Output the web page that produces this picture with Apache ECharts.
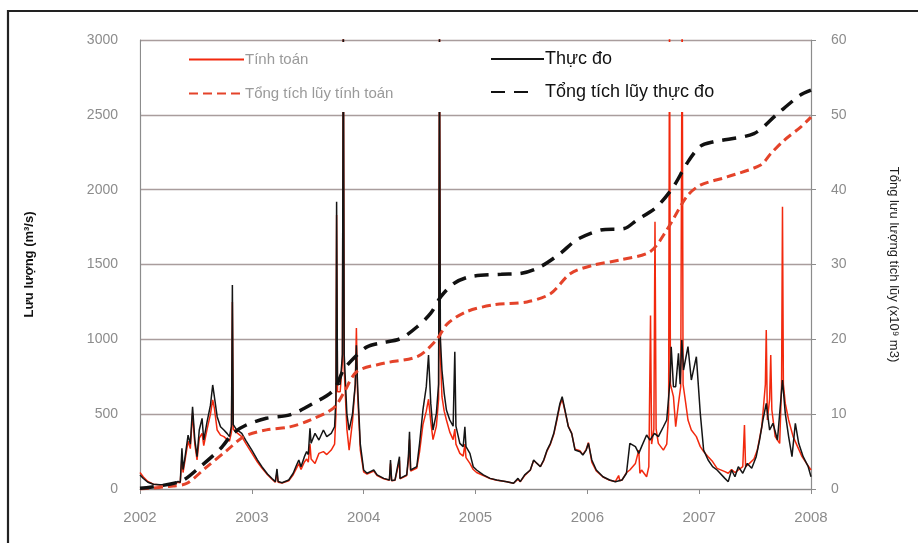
<!DOCTYPE html>
<html>
<head>
<meta charset="utf-8">
<script src="https://cdn.jsdelivr.net/npm/echarts@6/dist/echarts.min.js"></script>
<style>
  html, body { margin: 0; padding: 0; background: #fff; }
  #chart { width: 918px; height: 543px; }
</style>
</head>
<body>
<div id="chart"></div>
<script>
// time in decimal years, flow in m3/s
var tObs = [2002.00,2002.03,2002.07,2002.12,2002.18,2002.24,2002.30,2002.34,2002.36,2002.375,2002.385,2002.40,2002.43,2002.45,2002.47,2002.49,2002.51,2002.53,2002.555,2002.57,2002.60,2002.63,2002.65,2002.665,2002.69,2002.72,2002.75,2002.78,2002.80,2002.818,2002.826,2002.834,2002.86,2002.91,2002.95,
  2003.00,2003.05,2003.09,2003.14,2003.18,2003.21,2003.225,2003.235,2003.27,2003.33,2003.37,2003.40,2003.42,2003.44,2003.47,2003.49,2003.505,2003.52,2003.53,2003.565,2003.60,2003.64,2003.67,2003.71,2003.74,2003.752,2003.758,2003.766,2003.79,2003.81,2003.818,2003.826,2003.85,2003.87,2003.90,2003.925,2003.935,2003.945,2003.97,
  2004.00,2004.03,2004.06,2004.09,2004.12,2004.18,2004.23,2004.24,2004.25,2004.28,2004.32,2004.325,2004.385,2004.40,2004.41,2004.42,2004.475,2004.50,2004.53,2004.56,2004.58,2004.60,2004.62,2004.65,2004.67,2004.678,2004.686,2004.70,2004.72,2004.74,2004.77,2004.80,2004.815,2004.825,2004.86,2004.89,2004.905,2004.915,2004.95,2004.98,
  2005.01,2005.07,2005.13,2005.19,2005.28,2005.34,2005.38,2005.40,2005.44,2005.49,2005.52,2005.55,2005.58,2005.61,2005.64,2005.67,2005.70,2005.725,2005.755,2005.775,2005.80,2005.83,2005.86,2005.89,2005.935,2005.96,2005.99,
  2006.01,2006.04,2006.08,2006.14,2006.20,2006.25,2006.31,2006.35,2006.38,2006.43,2006.46,2006.485,2006.53,2006.56,2006.60,2006.635,2006.68,2006.71,2006.74,2006.75,2006.77,2006.79,2006.815,2006.83,2006.845,2006.86,2006.90,2006.93,2006.975,
  2007.01,2007.04,2007.08,2007.12,2007.16,2007.23,2007.26,2007.29,2007.32,2007.35,2007.39,2007.43,2007.47,2007.51,2007.54,2007.57,2007.60,2007.63,2007.66,2007.70,2007.745,2007.77,2007.80,2007.83,2007.86,2007.89,2007.93,2007.975,2008.00];
var qObs = [94,70,45,32,28,30,38,50,45,272,130,200,360,300,550,330,216,394,472,327,450,560,695,617,483,416,394,370,350,420,1363,430,400,372,320,
  260,195,149,100,70,49,134,50,42,60,105,160,194,149,216,250,230,405,305,372,327,394,350,372,416,600,1919,700,700,900,3300,900,500,394,500,700,960,700,300,
  127,105,116,127,94,71,60,194,56,60,216,71,94,216,383,127,149,305,528,684,895,572,394,505,700,3100,1000,795,639,528,461,420,917,420,305,283,416,283,238,149,
  127,94,71,60,49,38,71,49,94,127,194,171,149,194,260,305,372,461,572,617,528,416,372,260,249,227,260,
  305,194,127,82,60,49,60,105,305,283,238,283,361,327,372,350,416,461,728,951,684,684,906,700,995,795,951,728,884,
  505,260,194,149,127,71,49,127,82,149,105,171,138,216,327,461,572,394,439,327,728,505,350,216,439,305,216,149,82];

var tCalc = [2002.00,2002.03,2002.07,2002.12,2002.18,2002.24,2002.30,2002.34,2002.36,2002.375,2002.385,2002.40,2002.43,2002.45,2002.47,2002.49,2002.51,2002.53,2002.555,2002.57,2002.60,2002.63,2002.65,2002.665,2002.69,2002.72,2002.75,2002.78,2002.80,2002.818,2002.826,2002.834,2002.86,2002.91,2002.95,
  2003.00,2003.05,2003.09,2003.14,2003.18,2003.21,2003.225,2003.235,2003.27,2003.33,2003.37,2003.40,2003.42,2003.44,2003.47,2003.49,2003.505,2003.52,2003.53,2003.565,2003.60,2003.64,2003.67,2003.71,2003.74,2003.752,2003.758,2003.766,2003.79,2003.81,2003.818,2003.826,2003.85,2003.87,2003.90,2003.925,2003.935,2003.945,2003.97,
  2004.00,2004.03,2004.06,2004.09,2004.12,2004.18,2004.23,2004.24,2004.25,2004.28,2004.32,2004.325,2004.385,2004.40,2004.41,2004.42,2004.475,2004.50,2004.53,2004.56,2004.58,2004.60,2004.62,2004.65,2004.67,2004.678,2004.686,2004.70,2004.72,2004.74,2004.77,2004.80,2004.815,2004.825,2004.86,2004.89,2004.905,2004.915,2004.95,2004.98,
  2005.01,2005.07,2005.13,2005.19,2005.28,2005.34,2005.38,2005.40,2005.44,2005.49,2005.52,2005.55,2005.58,2005.61,2005.64,2005.67,2005.70,2005.725,2005.755,2005.775,2005.80,2005.83,2005.86,2005.89,2005.935,2005.96,2005.99,
  2006.01,2006.04,2006.08,2006.14,2006.20,2006.25,2006.28,2006.29,2006.31,2006.35,2006.38,2006.43,2006.46,2006.47,2006.485,2006.53,2006.55,2006.565,2006.575,2006.595,2006.605,2006.615,2006.635,2006.68,2006.71,2006.727,2006.735,2006.743,2006.77,2006.79,2006.815,2006.835,2006.848,2006.856,2006.88,2006.90,2006.93,2006.975,
  2007.01,2007.04,2007.08,2007.12,2007.16,2007.23,2007.26,2007.29,2007.32,2007.35,2007.39,2007.405,2007.415,2007.45,2007.49,2007.52,2007.56,2007.592,2007.60,2007.61,2007.63,2007.64,2007.65,2007.68,2007.72,2007.737,2007.745,2007.753,2007.77,2007.80,2007.84,2007.88,2007.92,2007.96,2008.00];
var qCalc = [110,80,50,32,26,28,35,45,42,216,110,180,320,270,505,300,194,340,372,290,400,500,595,540,394,360,350,330,320,380,1250,400,380,350,300,
  240,180,140,95,65,45,110,45,40,55,95,140,170,130,180,200,180,300,200,171,238,250,230,260,300,500,1830,650,650,850,3300,800,400,260,450,700,1075,650,260,
  115,100,110,120,90,68,58,170,55,58,190,68,90,190,330,120,140,250,430,520,600,450,330,420,600,3100,900,617,520,461,380,330,400,300,238,220,300,210,171,130,
  110,90,70,58,48,38,65,48,90,125,190,170,150,190,255,300,365,450,560,600,520,420,372,265,255,230,265,
  310,180,120,80,58,50,90,55,60,110,127,171,260,105,127,82,150,1160,300,400,1786,400,305,260,300,500,3300,700,617,416,572,684,3300,700,572,461,394,350,
  283,250,216,183,138,116,105,130,110,127,150,427,150,171,200,260,416,700,1062,461,600,895,528,350,305,700,1886,700,572,461,350,283,216,171,127];

// cumulative volume, x10^9 m3
var tCumObs = [2002.00,2002.36,2002.54,2002.72,2002.83,2002.95,2003.13,2003.34,2003.55,2003.73,2003.82,2003.94,2004.03,2004.15,2004.33,2004.48,2004.60,2004.69,2004.81,2004.96,2005.23,2005.40,2005.58,2005.76,2005.905,2006.12,2006.33,2006.44,2006.62,2006.77,2006.89,2007.01,2007.13,2007.49,2007.69,2007.90,2008.00];
var cumObs = [0.1,1.0,3.0,5.4,7.4,8.55,9.45,9.9,11.45,13.2,15.9,17.9,19.0,19.5,20.1,21.7,23.5,25.7,27.5,28.4,28.7,28.8,29.7,31.5,33.3,34.6,34.8,35.9,37.7,40.4,43.5,45.8,46.4,47.5,50.0,52.6,53.3];
var tCumCalc = [2002.00,2002.30,2002.42,2002.60,2002.78,2002.93,2003.13,2003.34,2003.52,2003.73,2003.82,2003.94,2004.18,2004.48,2004.65,2004.75,2004.92,2005.16,2005.46,2005.67,2005.85,2006.05,2006.29,2006.56,2006.71,2006.89,2007.01,2007.25,2007.55,2007.64,2007.76,2007.91,2008.00];
var cumCalc = [0.0,0.4,0.76,3.0,5.2,7.0,7.9,8.3,9.2,10.8,12.8,15.7,16.8,17.7,19.9,22.1,23.7,24.6,25.0,26.1,28.8,29.9,30.6,31.7,34.6,39.1,40.6,41.7,43.3,44.8,46.6,48.4,49.7];

var yearTicks = [2002, 2003, 2004, 2005, 2006, 2007, 2008];

function pairs(xs, ys) {
    return xs.map(function (x, i) { return [x, ys[i]]; });
}

var myChart = echarts.init(document.getElementById('chart'));

var gray = '#8c8c8c';
var gridCol = '#a99d9d';
var plain = function (v) { return String(v); };

// one legend per entry so each icon can have its own length
function legendItem(name, left, top, width, color, size, pad) {
    return {
        left: left, top: top,
        itemWidth: width, itemHeight: 12,
        zlevel: 1, z: 10,
        itemStyle: { opacity: 0 },
        textStyle: { color: color, fontSize: size, padding: [0, 0, 0, pad] },
        data: [name]
    };
}

myChart.setOption({
    animation: false,
    backgroundColor: '#fff',
    textStyle: { fontFamily: 'Liberation Sans, Arial, sans-serif' },
    grid: { left: 140, right: 107, top: 40, bottom: 54 },
    xAxis: {
        type: 'value',
        min: yearTicks[0],
        max: yearTicks[yearTicks.length - 1],
        interval: 1,
        axisLine: { show: true, lineStyle: { color: gray, width: 1.2 } },
        axisTick: { show: true, length: 5, lineStyle: { color: gray } },
        axisLabel: { color: gray, fontSize: 15, margin: 21, formatter: plain },
        splitLine: { show: false }
    },
    yAxis: [
        {
            type: 'value',
            min: 0, max: 3000, interval: 500,
            name: 'Lưu lượng (m³/s)',
            nameLocation: 'middle',
            nameGap: 104,
            nameTextStyle: { color: '#111', fontSize: 13, fontWeight: 'bold' },
            axisLine: { show: true, lineStyle: { color: gray, width: 1.2 } },
            axisTick: { show: false },
            axisLabel: { color: gray, fontSize: 14, margin: 22, formatter: plain },
            splitLine: { show: true, lineStyle: { color: gridCol, width: 1.3 } }
        },
        {
            type: 'value',
            min: 0, max: 60, interval: 10,
            position: 'right',
            name: 'Tổng lưu lượng tích lũy (x10⁹ m3)',
            nameLocation: 'middle',
            nameRotate: -90,
            nameGap: 76,
            nameTextStyle: { color: '#222', fontSize: 13 },
            axisLine: { show: true, lineStyle: { color: gray, width: 1.2 } },
            axisTick: { show: true, length: 5, lineStyle: { color: gray } },
            axisLabel: { color: gray, fontSize: 14, margin: 20, formatter: plain },
            splitLine: { show: false }
        }
    ],
    legend: [
        legendItem('Tính toán', 183, 47, 55, '#9a9a9a', 15, -4),
        legendItem('Tổng tích lũy tính toán', 183, 81, 55, '#9a9a9a', 15, -4),
        legendItem('Thực đo', 485, 45, 53, '#111', 18, -4),
        legendItem('Tổng tích lũy thực đo', 485, 78, 37, '#111', 18, 12)
    ],
    graphic: [
        {
            type: 'rect', zlevel: 1, z: 1, silent: true,
            shape: { x: 141, y: 42, width: 669, height: 70 },
            style: { fill: '#fff' }
        },
        {
            type: 'rect', zlevel: 1, z: 20, silent: true,
            shape: { x: 8, y: 11, width: 930, height: 560 },
            style: { fill: 'none', stroke: '#222', lineWidth: 2.2 }
        }
    ],
    series: [
        {
            name: 'Tính toán',
            type: 'line',
            symbol: 'none',
            data: pairs(tCalc, qCalc),
            lineStyle: { color: '#f2290e', width: 1.5 },
            itemStyle: { color: '#f2290e' }
        },
        {
            name: 'Thực đo',
            type: 'line',
            symbol: 'none',
            data: pairs(tObs, qObs),
            lineStyle: { color: '#151515', width: 1.5 },
            itemStyle: { color: '#151515' }
        },
        {
            name: 'Tổng tích lũy tính toán',
            type: 'line',
            yAxisIndex: 1,
            zlevel: 1, z: 5,
            symbol: 'none',
            smooth: 0.3,
            data: pairs(tCumCalc, cumCalc),
            lineStyle: { color: '#e4432a', width: 3, type: [9, 5] },
            itemStyle: { color: '#e4432a' }
        },
        {
            name: 'Tổng tích lũy thực đo',
            type: 'line',
            yAxisIndex: 1,
            zlevel: 1, z: 5,
            symbol: 'none',
            smooth: 0.3,
            data: pairs(tCumObs, cumObs),
            lineStyle: { color: '#111', width: 3.5, type: [14, 9] },
            itemStyle: { color: '#111' }
        }
    ]
});
</script>
</body>
</html>
